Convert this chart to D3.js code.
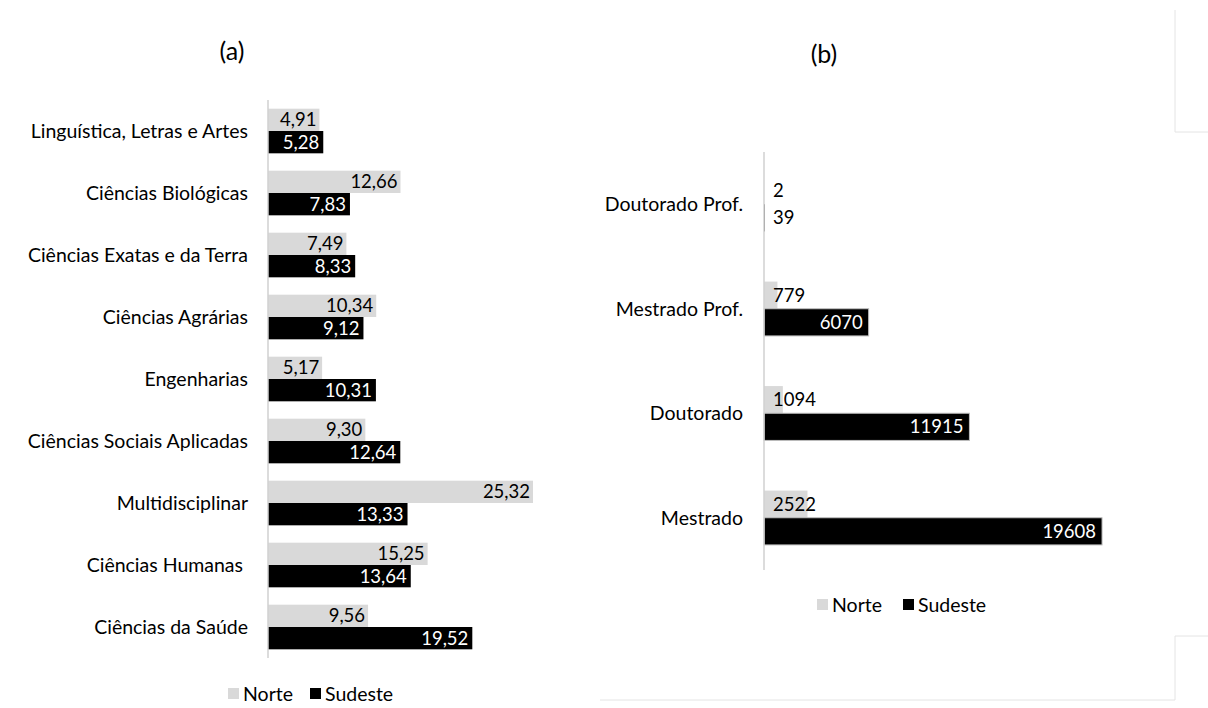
<!DOCTYPE html>
<html>
<head>
<meta charset="utf-8">
<script src="https://cdn.jsdelivr.net/npm/d3@7"></script>
<style>
    body { margin: 0; background: #fff; }
    svg { display: block; }
    text { font-family: Lato, "Open Sans", sans-serif; fill: #000; }
</style>
</head>
<body>
<div id="chart"></div>
<script>
(function () {
    'use strict';

    // panel (a): share by knowledge area (%)
    var areaCategories = [
        'Linguística, Letras e Artes',
        'Ciências Biológicas',
        'Ciências Exatas e da Terra',
        'Ciências Agrárias',
        'Engenharias',
        'Ciências Sociais Aplicadas',
        'Multidisciplinar',
        'Ciências Humanas ',
        'Ciências da Saúde'
    ];
    var areaNorte = [4.91, 12.66, 7.49, 10.34, 5.17, 9.30, 25.32, 15.25, 9.56];
    var areaSudeste = [5.28, 7.83, 8.33, 9.12, 10.31, 12.64, 13.33, 13.64, 19.52];

    // panel (b): enrolments by course level
    var levelCategories = ['Doutorado Prof.', 'Mestrado Prof.', 'Doutorado', 'Mestrado'];
    var levelNorte = [2, 779, 1094, 2522];
    var levelSudeste = [39, 6070, 11915, 19608];

    var seriesNames = ['Norte', 'Sudeste'];

    var norteFill = '#d9d9d9';
    var sudesteFill = '#000000';
    var axisColor = '#d0d0d0';
    var frameColor = '#e4e4e4';

    var width = 1208;
    var height = 708;

    var svg = d3.select('#chart').append('svg')
        .attr('width', width)
        .attr('height', height);

    var comma = function (v) {
        return d3.format('.2f')(v).replace('.', ',');
    };

    // faint frame edges left over from the original screenshot
    var frames = [
        [1175, 10, 1175, 132], [1175, 132, 1208, 132],
        [1175, 636, 1208, 636], [1175, 636, 1175, 700], [600, 700, 1175, 700]
    ];
    svg.selectAll('line.frame')
        .data(frames)
        .enter().append('line')
        .attr('class', 'frame')
        .attr('x1', function (d) { return d[0]; })
        .attr('y1', function (d) { return d[1]; })
        .attr('x2', function (d) { return d[2]; })
        .attr('y2', function (d) { return d[3]; })
        .style('stroke', frameColor)
        .style('stroke-width', 1);

    drawPanel({
        title: '(a)',
        titleX: 232,
        titleY: 50,
        categories: areaCategories,
        norte: areaNorte,
        sudeste: areaSudeste,
        xDomain: [0, 30],
        xRange: [268, 582],
        yRange: [100, 658],
        paddingInner: 0.28,
        paddingOuter: 0.14,
        labelGap: 20,
        format: comma,
        norteInside: true,
        minInside: 0,
        norteOffset: 3,
        sudesteOffset: 4,
        sudesteStroke: 'none',
        legendX: 228,
        legendY: 694,
        legendStep: 82
    });

    drawPanel({
        title: '(b)',
        titleX: 824,
        titleY: 53,
        categories: levelCategories,
        norte: levelNorte,
        sudeste: levelSudeste,
        xDomain: [0, 20000],
        xRange: [764, 1108.8],
        yRange: [152, 570],
        paddingInner: 0.48,
        paddingOuter: 0.24,
        labelGap: 21,
        format: d3.format('d'),
        norteInside: false,
        minInside: 1000,
        norteOffset: 6,
        sudesteOffset: 6,
        sudesteStroke: '#bdbdbd',
        legendX: 817,
        legendY: 605,
        legendStep: 86
    });

    function drawPanel(opt) {
        var g = svg.append('g');

        var x = d3.scaleLinear()
            .domain(opt.xDomain)
            .range(opt.xRange);

        var y = d3.scaleBand()
            .domain(opt.categories)
            .range(opt.yRange)
            .paddingInner(opt.paddingInner)
            .paddingOuter(opt.paddingOuter);

        var ySeries = d3.scaleBand()
            .domain(seriesNames)
            .range([0, y.bandwidth()]);

        g.append('text')
            .attr('x', opt.titleX)
            .attr('y', opt.titleY)
            .attr('text-anchor', 'middle')
            .attr('dominant-baseline', 'central')
            .style('font-size', '25px')
            .text(opt.title);

        var rows = opt.categories.map(function (c, i) {
            return { category: c, Norte: opt.norte[i], Sudeste: opt.sudeste[i] };
        });

        var group = g.selectAll('g.row')
            .data(rows)
            .enter().append('g')
            .attr('class', 'row')
            .attr('transform', function (d) { return 'translate(0,' + y(d.category) + ')'; });

        group.append('rect')
            .attr('x', x(0))
            .attr('y', ySeries('Norte'))
            .attr('width', function (d) { return x(d.Norte) - x(0); })
            .attr('height', ySeries.bandwidth())
            .style('fill', norteFill);

        group.append('rect')
            .attr('x', x(0))
            .attr('y', ySeries('Sudeste'))
            .attr('width', function (d) { return x(d.Sudeste) - x(0); })
            .attr('height', ySeries.bandwidth())
            .style('fill', sudesteFill)
            .style('stroke', function (d) {
                return d.Sudeste > opt.minInside ? opt.sudesteStroke : 'none';
            })
            .style('stroke-width', 1);

        // value labels
        group.append('text')
            .attr('x', function (d) {
                return opt.norteInside ? x(d.Norte) - opt.norteOffset : x(0) + 9;
            })
            .attr('y', ySeries('Norte') + ySeries.bandwidth() / 2)
            .attr('dy', '0.35em')
            .attr('text-anchor', opt.norteInside ? 'end' : 'start')
            .style('font-size', '18.5px')
            .text(function (d) { return opt.format(d.Norte); });

        group.append('text')
            .attr('x', function (d) {
                return d.Sudeste > opt.minInside ? x(d.Sudeste) - opt.sudesteOffset : x(0) + 9;
            })
            .attr('y', ySeries('Sudeste') + ySeries.bandwidth() / 2)
            .attr('dy', '0.35em')
            .attr('text-anchor', function (d) { return d.Sudeste > opt.minInside ? 'end' : 'start'; })
            .style('font-size', '18.5px')
            .style('fill', function (d) { return d.Sudeste > opt.minInside ? '#fff' : '#000'; })
            .text(function (d) { return opt.format(d.Sudeste); });

        // category axis
        g.append('line')
            .attr('x1', x(0))
            .attr('x2', x(0))
            .attr('y1', opt.yRange[0])
            .attr('y2', opt.yRange[1])
            .style('stroke', axisColor)
            .style('stroke-width', 1.5);

        g.selectAll('text.cat')
            .data(opt.categories)
            .enter().append('text')
            .attr('class', 'cat')
            .attr('x', x(0) - opt.labelGap)
            .attr('y', function (d) { return y(d) + y.bandwidth() / 2; })
            .attr('dy', '0.35em')
            .attr('text-anchor', 'end')
            .style('font-size', '19.5px')
            .style('white-space', 'pre')
            .text(function (d) { return d; });

        // legend
        var legend = g.append('g')
            .attr('transform', 'translate(' + opt.legendX + ',' + opt.legendY + ')');
        var item = legend.selectAll('g')
            .data(seriesNames)
            .enter().append('g')
            .attr('transform', function (d, i) { return 'translate(' + (i * opt.legendStep) + ',0)'; });
        item.append('rect')
            .attr('x', 0)
            .attr('y', -6)
            .attr('width', 11)
            .attr('height', 11)
            .style('fill', function (d) { return d === 'Norte' ? norteFill : sudesteFill; });
        item.append('text')
            .attr('x', 15)
            .attr('y', 0)
            .attr('dy', '0.35em')
            .style('font-size', '19.5px')
            .text(function (d) { return d; });
    }
})();
</script>
</body>
</html>
